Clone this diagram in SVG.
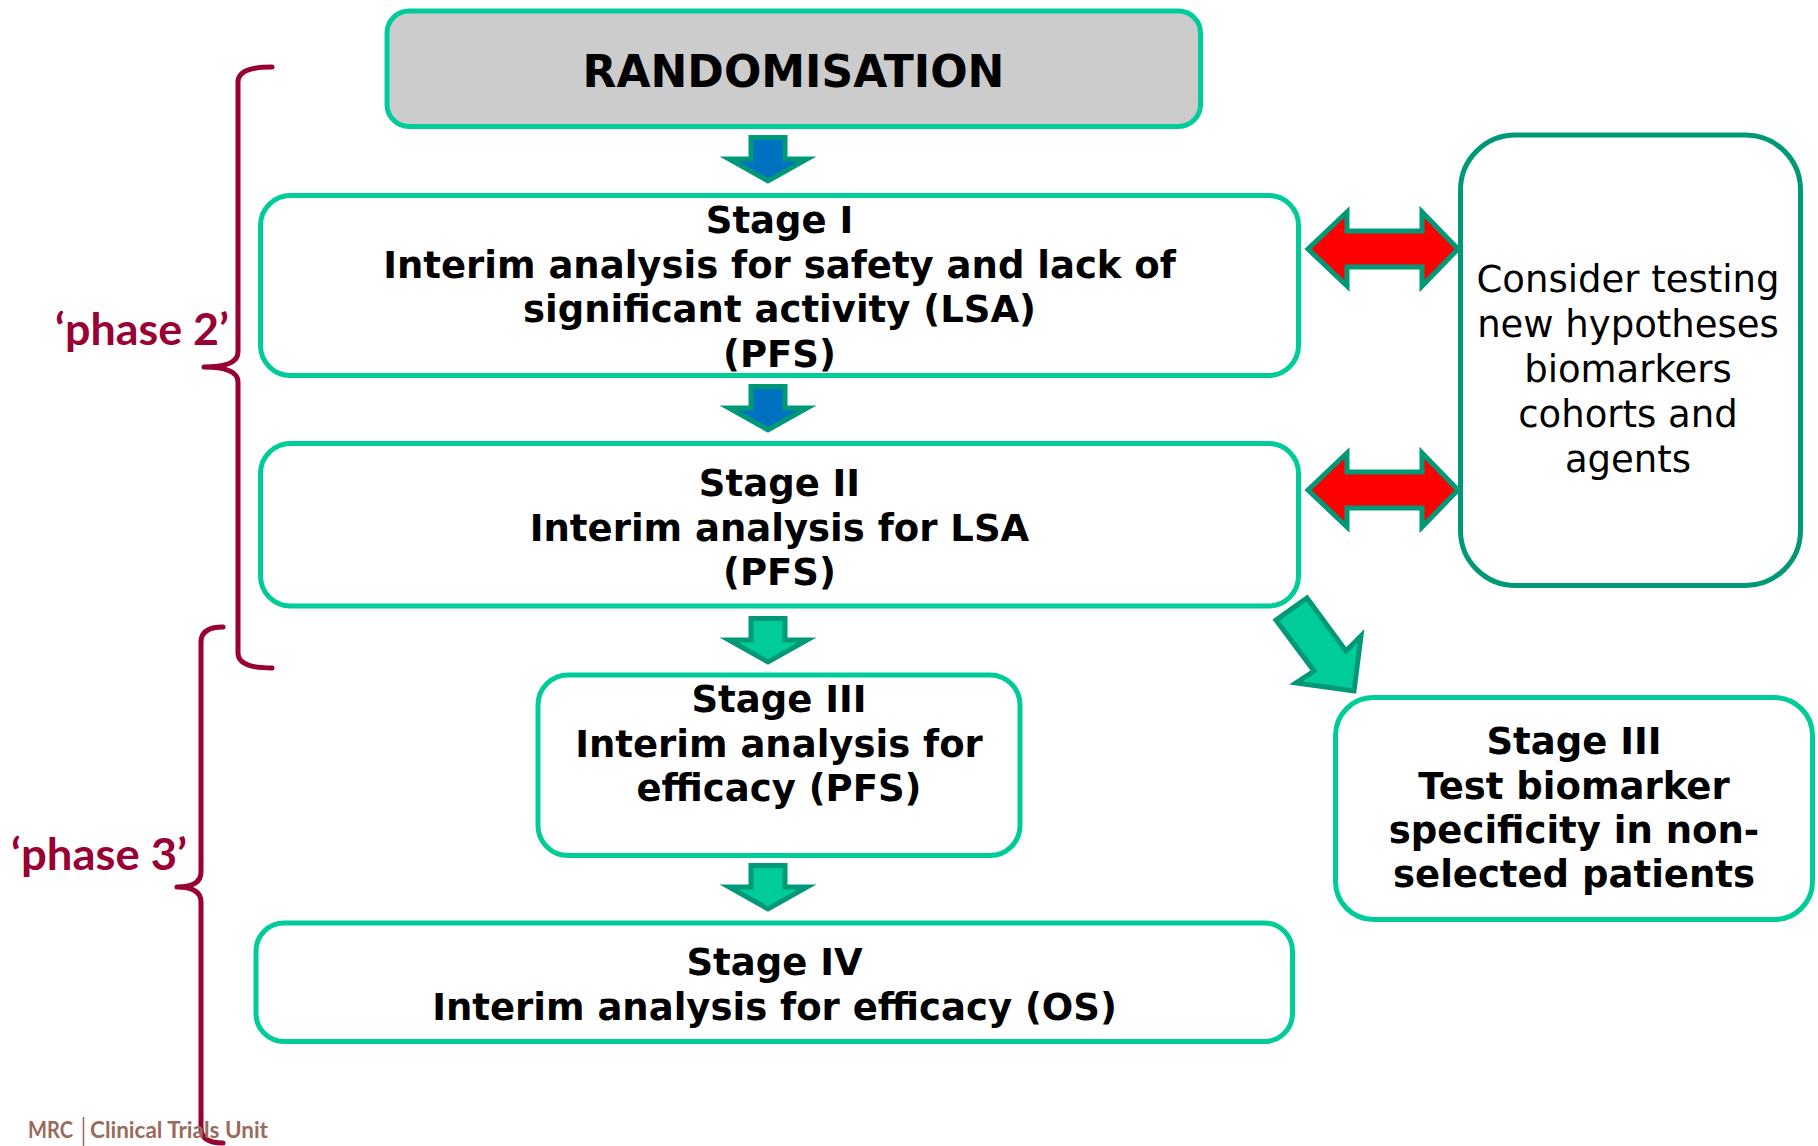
<svg xmlns="http://www.w3.org/2000/svg" xmlns:xlink="http://www.w3.org/1999/xlink" width="1818" height="1146" viewBox="0 0 1818 1146">
<style>
  .box { fill: #ffffff; stroke: #00CC99; stroke-width: 5; }
  .box2 { fill: #ffffff; stroke: #009977; stroke-width: 5; }
  .gray { fill: #cccccc; stroke: #00CC99; stroke-width: 5; }
  .t { font-family: "DejaVu Sans", Verdana, sans-serif; font-weight: bold; font-size: 37px; fill: #000000; text-anchor: middle; }
  .tr { font-family: "DejaVu Sans", Verdana, sans-serif; font-weight: normal; font-size: 37px; fill: #000000; text-anchor: middle; }
  .big { font-size: 44px; }
  .phase { font-family: Lato, "Open Sans", sans-serif; font-weight: bold; font-size: 44px; fill: #990033; }
  .brace { fill: none; stroke: #990033; stroke-width: 5; stroke-linecap: round; stroke-linejoin: round; }
  .mrc { font-family: Lato, "Open Sans", sans-serif; font-weight: bold; font-size: 22px; fill: #9B6A5E; }
  .blue { fill: #0070C0; stroke: #009977; stroke-width: 5; stroke-linejoin: miter; }
  .green { fill: #00CC99; stroke: #009977; stroke-width: 5; stroke-linejoin: miter; }
  .red { fill: #FF0000; stroke: #009977; stroke-width: 5; stroke-linejoin: miter; }
</style>
<defs>
  <path id="down" d="M -17 2.5 L 17 2.5 L 17 24 L 39 24 L 0 46 L -39 24 L -17 24 Z"/>
  <path id="dbl" d="M 0 0 L 39 -37 L 39 -18 L 114 -18 L 114 -37 L 150 0 L 114 37 L 114 18 L 39 18 L 39 37 Z"/>
</defs>

<g id="braces">
  <path class="brace" d="M 272 67 Q 238 67 238 82 L 238 352 Q 238 367 204 367 Q 238 367 238 382 L 238 653 Q 238 668 272 668"/>
  <path class="brace" d="M 223 627 Q 201 627 201 642 L 201 872 Q 201 887 177 887 Q 201 887 201 902 L 201 1128 Q 201 1143 223 1143"/>
  <text class="phase" x="55" y="345" textLength="174" lengthAdjust="spacingAndGlyphs">‘phase 2’</text>
  <text class="phase" x="11" y="870" textLength="176" lengthAdjust="spacingAndGlyphs">‘phase 3’</text>
</g>

<g id="randomisation">
  <rect class="gray" x="387" y="11" width="813.5" height="115.5" rx="22"/>
  <text class="t big" x="793.5" y="87">RANDOMISATION</text>
</g>

<g id="stage1">
  <rect class="box" x="260.5" y="195.5" width="1038" height="180" rx="30"/>
  <text class="t" x="779.5" y="233">Stage I</text>
  <text class="t" x="779.5" y="278">Interim analysis for safety and lack of</text>
  <text class="t" x="779.5" y="322">significant activity (LSA)</text>
  <text class="t" x="779.5" y="367">(PFS)</text>
</g>

<g id="stage2">
  <rect class="box" x="260.5" y="443.5" width="1038" height="162.5" rx="30"/>
  <text class="t" x="779.5" y="496">Stage II</text>
  <text class="t" x="779.5" y="541">Interim analysis for LSA</text>
  <text class="t" x="779.5" y="585">(PFS)</text>
</g>

<g id="stage3">
  <rect class="box" x="538" y="675" width="482" height="180.5" rx="30"/>
  <text class="t" x="779" y="712">Stage III</text>
  <text class="t" x="779" y="757">Interim analysis for</text>
  <text class="t" x="779" y="801">efficacy (PFS)</text>
</g>

<g id="stage4">
  <rect class="box" x="256" y="923" width="1036.5" height="118.5" rx="28"/>
  <text class="t" x="774.5" y="975">Stage IV</text>
  <text class="t" x="774.5" y="1020">Interim analysis for efficacy (OS)</text>
</g>

<g id="consider">
  <rect class="box2" x="1460.5" y="135" width="340" height="450.5" rx="55"/>
  <text class="tr" x="1628" y="292">Consider testing</text>
  <text class="tr" x="1628" y="337">new hypotheses</text>
  <text class="tr" x="1628" y="382">biomarkers</text>
  <text class="tr" x="1628" y="427">cohorts and</text>
  <text class="tr" x="1628" y="472">agents</text>
</g>

<g id="stage3b">
  <rect class="box" x="1335.5" y="697.5" width="477" height="222" rx="38"/>
  <text class="t" x="1574" y="754">Stage III</text>
  <text class="t" x="1574" y="799">Test biomarker</text>
  <text class="t" x="1574" y="843">specificity in non-</text>
  <text class="t" x="1574" y="887">selected patients</text>
</g>

<g id="connectors">
  <use xlink:href="#down" class="blue" x="768" y="135"/>
  <use xlink:href="#down" class="blue" x="768" y="384"/>
  <use xlink:href="#down" class="green" x="768" y="616"/>
  <use xlink:href="#down" class="green" x="768" y="863"/>
  <use xlink:href="#dbl" class="red" x="1308" y="249"/>
  <use xlink:href="#dbl" class="red" x="1308" y="490"/>
  <polygon class="green" points="1276,620 1307,598 1346,651 1361,636 1354,691 1296,683 1314,671"/>
</g>

<g id="footer">
  <text class="mrc" x="28" y="1138" textLength="45" lengthAdjust="spacingAndGlyphs">MRC</text>
  <line x1="83.5" y1="1117" x2="83.5" y2="1146" stroke="#9B6A5E" stroke-width="1.5"/>
  <text class="mrc" x="90" y="1138" textLength="178" lengthAdjust="spacingAndGlyphs">Clinical Trials Unit</text>
</g>
</svg>
